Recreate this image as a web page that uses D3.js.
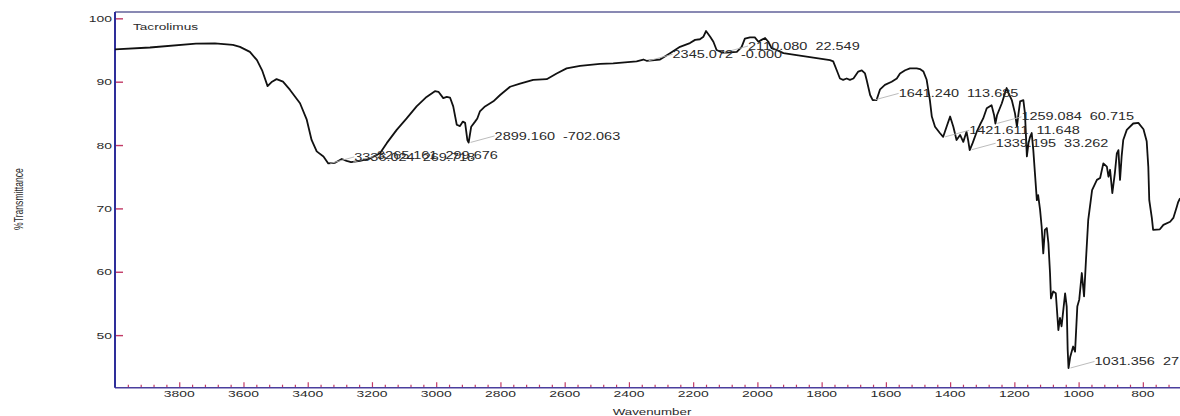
<!DOCTYPE html>
<html>
<head>
<meta charset="utf-8">
<script src="https://cdn.jsdelivr.net/npm/d3@7"></script>
<style>
  html, body { margin: 0; padding: 0; background: #fff; }
  svg { display: block; font-family: "Liberation Sans", Arial, sans-serif; }
  text { white-space: pre; }
</style>
</head>
<body>
<script>
// FTIR spectrum of Tacrolimus (% transmittance vs wavenumber, cm-1)
const wavenumber = [
  4000, 3891, 3748, 3689, 3633, 3611, 3580, 3558, 3542, 3525, 3511, 3497, 3477, 3455, 3424, 3403,
  3388, 3372, 3351, 3336, 3315, 3294, 3279, 3265, 3237, 3206, 3175, 3154, 3123, 3092, 3061, 3030,
  3004, 2993, 2978, 2967, 2957, 2947, 2936, 2926, 2917, 2910, 2903, 2899, 2891, 2879, 2872, 2864,
  2848, 2822, 2801, 2770, 2739, 2698, 2656, 2625, 2594, 2552, 2490, 2449, 2376, 2355, 2345, 2303,
  2272, 2241, 2210, 2194, 2179, 2168, 2160, 2147, 2137, 2127, 2110, 2096, 2064, 2049, 2039, 2023,
  2008, 1997, 1987, 1976, 1966, 1956, 1940, 1919, 1878, 1826, 1774, 1764, 1753, 1743, 1733, 1722,
  1712, 1701, 1686, 1675, 1665, 1660, 1649, 1641, 1629, 1618, 1603, 1582, 1566, 1556, 1540, 1525,
  1504, 1494, 1483, 1473, 1463, 1457, 1447, 1432, 1421.6, 1411, 1400, 1390, 1380, 1369, 1359, 1349,
  1344, 1339, 1330, 1317, 1307, 1297, 1286, 1271, 1263, 1259, 1254, 1239, 1229, 1224, 1218, 1208,
  1198, 1192, 1187, 1182, 1172, 1167, 1161, 1156, 1151, 1146, 1141, 1136, 1130, 1126, 1120, 1115,
  1110, 1105, 1099, 1094, 1089, 1086, 1079, 1071, 1063, 1058, 1053, 1042, 1037, 1034, 1031.4, 1026,
  1017, 1011, 1004, 998, 990, 983, 977, 970, 962, 958, 943, 933, 923, 912, 907, 902,
  895, 887, 881, 876, 871, 866, 861, 850, 830, 814, 798, 788, 783, 780, 772, 768,
  747, 736, 715, 705, 694, 690, 684
];
const transmittance = [
  95.1, 95.4, 96.0, 96.05, 95.8, 95.5, 94.7, 93.4, 91.8, 89.3, 90.0, 90.4, 90.0, 88.7, 86.6, 84.0,
  80.8, 79.0, 78.2, 77.1, 77.2, 77.8, 77.5, 77.3, 77.5, 77.9, 78.7, 80.3, 82.4, 84.2, 86.1, 87.6,
  88.5, 88.4, 87.4, 87.6, 87.5, 86.1, 83.2, 83.0, 83.7, 83.5, 80.8, 80.4, 82.9, 83.7, 84.2, 85.3,
  86.1, 86.9, 87.9, 89.2, 89.7, 90.3, 90.4, 91.3, 92.1, 92.5, 92.8, 92.9, 93.2, 93.5, 93.3, 93.5,
  94.5, 95.5, 96.1, 96.6, 96.7, 97.1, 98.0, 97.1, 96.3, 95.0, 94.6, 94.6, 94.7, 95.5, 96.8, 97.0,
  97.0, 96.3, 96.6, 96.9, 96.3, 95.3, 95.0, 94.5, 94.2, 93.8, 93.4, 93.2, 91.8, 90.5, 90.3, 90.5,
  90.3, 90.5, 91.6, 91.8, 91.3, 90.3, 87.9, 87.1, 87.1, 88.8, 89.5, 90.0, 90.5, 91.3, 91.8, 92.1,
  92.1, 92.0, 91.6, 90.3, 87.1, 84.5, 82.9, 81.9, 81.3, 82.9, 84.5, 82.9, 80.8, 81.6, 80.5, 82.1,
  80.8, 79.2, 80.3, 82.1, 83.2, 84.2, 85.8, 86.3, 84.7, 83.4, 84.7, 86.6, 88.2, 89.0, 88.2, 87.1,
  85.0, 82.9, 85.0, 86.9, 87.1, 85.0, 78.2, 80.3, 81.3, 81.9, 79.2, 75.6, 71.3, 72.1, 69.8, 67.1,
  62.9, 66.6, 66.9, 64.5, 59.8, 55.8, 56.9, 56.6, 50.8, 52.7, 51.4, 56.6, 54.5, 47.7, 44.8, 46.6,
  48.2, 47.4, 54.5, 55.6, 59.8, 56.1, 61.9, 68.2, 71.3, 72.9, 74.5, 74.8, 77.1, 76.6, 75.0, 76.1,
  72.4, 75.6, 78.7, 79.2, 74.5, 78.2, 80.8, 82.4, 83.4, 83.5, 82.5, 80.6, 76.6, 71.3, 68.5, 66.6,
  66.7, 67.4, 67.9, 68.5, 70.3, 71.0, 71.6
];

// Peak-pick annotations
const peakWavenumber = [3336.024, 3265.161, 2899.160, 2345.072, 2110.080, 1641.240, 1421.611, 1339.195, 1259.084, 1031.356];
const peakLabel = [
  "3336.024  269.718", "3265.161  299.676", "2899.160  -702.063", "2345.072  -0.000",
  "2110.080  22.549", "1641.240  113.685", "1421.611  11.648", "1339.195  33.262",
  "1259.084  60.715", "1031.356  27"
];

const xTicks = [3800, 3600, 3400, 3200, 3000, 2800, 2600, 2400, 2200, 2000, 1800, 1600, 1400, 1200, 1000, 800];
const yTicks = [50, 60, 70, 80, 90, 100];
const title = "Tacrolimus";
const xTitle = "Wavenumber";
const yTitle = "%Transmittance";

// ---------------------------------------------------------------
const W = 1180, H = 416;
const SX = 1.45;            // horizontal stretch of the exported text
const AXIS_BLUE = "#2e2e9a";
const TICK_RED = "#c23a66";
const INK = "#2a2a2a";

const svg = d3.select("body").append("svg").attr("width", W).attr("height", H);

const x = d3.scaleLinear().domain([4000, 400]).range([115, 115 + 3600 * 0.3212]);
const y = d3.scaleLinear().domain([41.7, 101]).range([387.7, 12]);

const plotTop = y.range()[1], plotBottom = y.range()[0], plotLeft = x.range()[0];

// frame: top border
svg.append("line")
  .attr("x1", plotLeft).attr("x2", W)
  .attr("y1", plotTop).attr("y2", plotTop)
  .attr("stroke", "#62629a").attr("stroke-width", 1.3);

// bottom axis ticks (minor every 40, major every 200), only within the view
const visible = v => x(v) <= W;
const minorTicks = d3.range(400, 4000, 40).filter(v => v % 200 !== 0 && visible(v));
const majorTicks = d3.range(400, 4000, 200).filter(visible);
const gx = svg.append("g").attr("transform", `translate(0,${plotBottom})`);
gx.append("g").call(d3.axisBottom(x).tickValues(minorTicks).tickSize(-3).tickFormat("").tickSizeOuter(0));
gx.append("g").call(d3.axisBottom(x).tickValues(majorTicks).tickSize(-5.5).tickFormat("").tickSizeOuter(0));
gx.selectAll(".domain").remove();
gx.selectAll(".tick line").attr("stroke", TICK_RED).attr("stroke-width", 1.2);
gx.append("line").attr("x1", plotLeft).attr("x2", W).attr("y1", 0).attr("y2", 0)
  .attr("stroke", "#4a3f9e").attr("stroke-width", 1.6);

// x tick labels
svg.append("g").selectAll("text").data(xTicks).join("text")
  .attr("transform", d => `translate(${x(d)},397) scale(${SX},1)`)
  .attr("text-anchor", "middle")
  .attr("font-size", 9.6)
  .attr("fill", INK)
  .text(d => d);

// left axis
const gy = svg.append("g").attr("transform", `translate(${plotLeft},0)`);
gy.call(d3.axisRight(y).tickValues(yTicks).tickSize(8).tickFormat("").tickSizeOuter(0));
gy.selectAll(".domain").remove();
gy.selectAll(".tick line").attr("stroke", TICK_RED).attr("stroke-width", 1.4);
gy.append("line").attr("x1", 0).attr("x2", 0).attr("y1", plotTop).attr("y2", plotBottom)
  .attr("stroke", AXIS_BLUE).attr("stroke-width", 2);

svg.append("g").selectAll("text").data(yTicks).join("text")
  .attr("transform", d => `translate(${plotLeft - 3},${y(d) + 3.5}) scale(${SX},1)`)
  .attr("text-anchor", "end")
  .attr("font-size", 9.6)
  .attr("fill", INK)
  .text(d => d);

// axis titles
svg.append("text")
  .attr("transform", `translate(652,414.5) scale(${SX},1)`)
  .attr("text-anchor", "middle")
  .attr("font-size", 9.2)
  .attr("fill", INK)
  .text(xTitle);

svg.append("text")
  .attr("transform", `translate(22.5,199) scale(${SX},1) rotate(-90)`)
  .attr("text-anchor", "middle")
  .attr("font-size", 8.6)
  .attr("fill", INK)
  .text(yTitle);

// sample name
svg.append("text")
  .attr("transform", `translate(133,29.5) scale(${SX},1)`)
  .attr("font-size", 9.4)
  .attr("fill", INK)
  .text(title);

// spectrum trace
const spectrum = wavenumber.map((w, i) => [w, transmittance[i]]);
const line = d3.line().x(d => x(d[0])).y(d => y(d[1]));
svg.append("path")
  .datum(spectrum)
  .attr("d", line)
  .attr("fill", "none")
  .attr("stroke", "#111")
  .attr("stroke-width", 1.8)
  .attr("stroke-linejoin", "round");

// transmittance on the trace at a given wavenumber
function traceAt(w) {
  for (let i = 0; i < spectrum.length - 1; i++) {
    const a = spectrum[i], b = spectrum[i + 1];
    if (w <= a[0] && w >= b[0]) {
      const t = (a[0] - w) / (a[0] - b[0]);
      return a[1] + t * (b[1] - a[1]);
    }
  }
  return spectrum[spectrum.length - 1][1];
}

// peak annotations: thin leader + label
const LDX = 26, LDY = -6.5;
const peaks = peakWavenumber.map((w, i) => ({ px: x(w), py: y(traceAt(w)), label: peakLabel[i] }));
const ga = svg.append("g");
ga.selectAll("line").data(peaks).join("line")
  .attr("x1", d => d.px + 2).attr("y1", d => d.py)
  .attr("x2", d => d.px + LDX).attr("y2", d => d.py + LDY)
  .attr("stroke", "#b4b4b4").attr("stroke-width", 0.9);
ga.selectAll("text").data(peaks).join("text")
  .attr("transform", d => `translate(${d.px + LDX},${d.py + LDY + 3.6}) scale(${SX},1)`)
  .attr("font-size", 10)
  .attr("fill", INK)
  .text(d => d.label);
</script>
</body>
</html>
